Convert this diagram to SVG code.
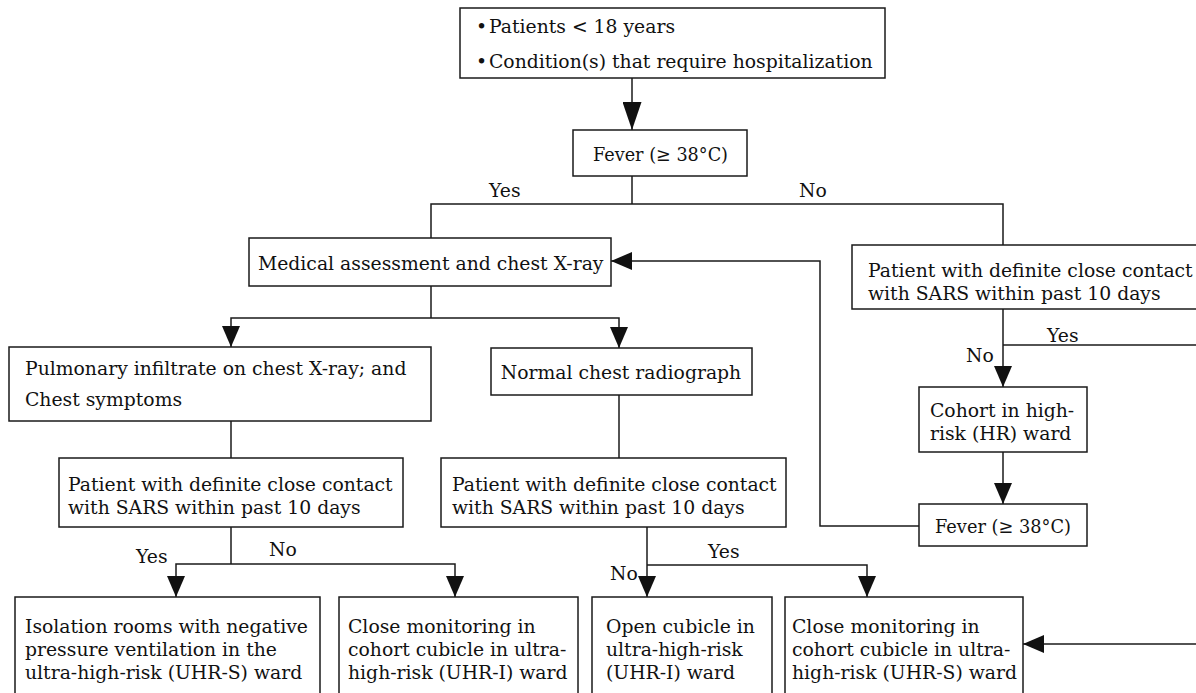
<svg xmlns="http://www.w3.org/2000/svg" width="1196" height="693" viewBox="0 0 1196 693">
<style>
  .box { fill: #ffffff; stroke: #1a1a1a; stroke-width: 1.5; }
  .t { font-family: "DejaVu Serif", "Liberation Serif", serif; font-size: 18.8px; fill: #111111; }
  .c { text-anchor: middle; }
  .ln { fill: none; stroke: #1a1a1a; stroke-width: 1.5; }
  .arr { marker-end: url(#ah); }
  .big { marker-end: url(#ahBig); }
</style>
<defs>
  <marker id="ah" markerUnits="userSpaceOnUse" markerWidth="21" markerHeight="18" refX="21" refY="9" orient="auto">
    <path d="M0,0 L21,9 L0,18 Z" fill="#111111"/>
  </marker>
  <marker id="ahBig" markerUnits="userSpaceOnUse" markerWidth="28" markerHeight="19" refX="28" refY="9.5" orient="auto">
    <path d="M0,0 L28,9.5 L0,19 Z" fill="#111111"/>
  </marker>
</defs>
<rect width="1196" height="693" fill="#ffffff"/>

<g id="connectors">
  <path class="ln big" d="M632,78 V130"/>
  <path class="ln" d="M632,176 V204"/>
  <path class="ln" d="M431,238 V204 H1003 V245"/>
  <path class="ln" d="M431,286 V318"/>
  <path class="ln arr" d="M431,318 H231 V347"/>
  <path class="ln arr" d="M431,318 H619 V348"/>
  <path class="ln" d="M231,421 V458"/>
  <path class="ln" d="M619,395 V458"/>
  <path class="ln" d="M231,527 V564"/>
  <path class="ln arr" d="M231,564 H176 V597"/>
  <path class="ln arr" d="M231,564 H455 V597"/>
  <path class="ln arr" d="M647,527 V597"/>
  <path class="ln arr" d="M647,565 H867 V597"/>
  <path class="ln arr" d="M1003,309 V387"/>
  <path class="ln" d="M1003,345 H1200"/>
  <path class="ln arr" d="M1003,452 V504"/>
  <path class="ln arr" d="M919,526 H820 V261 H611"/>
  <path class="ln arr" d="M1200,644 H1023"/>
  <text class="t" x="489" y="197">Yes</text>
  <text class="t" x="799" y="197">No</text>
  <text class="t" x="1047" y="342">Yes</text>
  <text class="t" x="966" y="362">No</text>
  <text class="t" x="136" y="563">Yes</text>
  <text class="t" x="269" y="556">No</text>
  <text class="t" x="610" y="580">No</text>
  <text class="t" x="708" y="558">Yes</text>
</g>

<g id="start">
  <rect class="box" x="460" y="8" width="425" height="70"/>
  <text class="t" y="33"><tspan x="476">•</tspan><tspan x="489">Patients &lt; 18 years</tspan></text>
  <text class="t" y="68"><tspan x="476">•</tspan><tspan x="489">Condition(s) that require hospitalization</tspan></text>
</g>

<g id="fever1">
  <rect class="box" x="573" y="130" width="174" height="46"/>
  <text class="t" x="593" y="161" textLength="135" lengthAdjust="spacingAndGlyphs">Fever (≥ 38°C)</text>
</g>

<g id="medical">
  <rect class="box" x="249" y="238" width="362" height="48"/>
  <text class="t" x="258" y="270">Medical assessment and chest X-ray</text>
</g>

<g id="contactRight">
  <rect class="box" x="852" y="245" width="360" height="64"/>
  <text class="t" x="868" y="277">Patient with definite close contact</text>
  <text class="t" x="868" y="300">with SARS within past 10 days</text>
</g>

<g id="cohortHR">
  <rect class="box" x="919" y="387" width="168" height="65"/>
  <text class="t" x="930" y="417">Cohort in high-</text>
  <text class="t" x="930" y="440">risk (HR) ward</text>
</g>

<g id="fever2">
  <rect class="box" x="919" y="504" width="168" height="42"/>
  <text class="t" x="935" y="533" textLength="136" lengthAdjust="spacingAndGlyphs">Fever (≥ 38°C)</text>
</g>

<g id="pulmonary">
  <rect class="box" x="9" y="347" width="422" height="74"/>
  <text class="t" x="25" y="375">Pulmonary infiltrate on chest X-ray; and</text>
  <text class="t" x="25" y="406">Chest symptoms</text>
</g>

<g id="normal">
  <rect class="box" x="491" y="348" width="261" height="47"/>
  <text class="t c" x="621" y="379">Normal chest radiograph</text>
</g>

<g id="contactLeft">
  <rect class="box" x="59" y="458" width="344" height="69"/>
  <text class="t" x="68" y="491">Patient with definite close contact</text>
  <text class="t" x="68" y="514">with SARS within past 10 days</text>
</g>

<g id="contactMid">
  <rect class="box" x="441" y="458" width="345" height="69"/>
  <text class="t" x="452" y="491">Patient with definite close contact</text>
  <text class="t" x="452" y="514">with SARS within past 10 days</text>
</g>

<g id="isolation">
  <rect class="box" x="15" y="597" width="305" height="110"/>
  <text class="t" x="25" y="633">Isolation rooms with negative</text>
  <text class="t" x="25" y="656">pressure ventilation in the</text>
  <text class="t" x="25" y="679">ultra-high-risk (UHR-S) ward</text>
</g>

<g id="closeUHRI">
  <rect class="box" x="339" y="597" width="239" height="110"/>
  <text class="t" x="348" y="633">Close monitoring in</text>
  <text class="t" x="348" y="656">cohort cubicle in ultra-</text>
  <text class="t" x="348" y="679">high-risk (UHR-I) ward</text>
</g>

<g id="openCubicle">
  <rect class="box" x="592" y="597" width="180" height="110"/>
  <text class="t" x="606" y="633">Open cubicle in</text>
  <text class="t" x="606" y="656">ultra-high-risk</text>
  <text class="t" x="606" y="679">(UHR-I) ward</text>
</g>

<g id="closeUHRS">
  <rect class="box" x="785" y="597" width="238" height="110"/>
  <text class="t" x="792" y="633">Close monitoring in</text>
  <text class="t" x="792" y="656">cohort cubicle in ultra-</text>
  <text class="t" x="792" y="679">high-risk (UHR-S) ward</text>
</g>
</svg>
